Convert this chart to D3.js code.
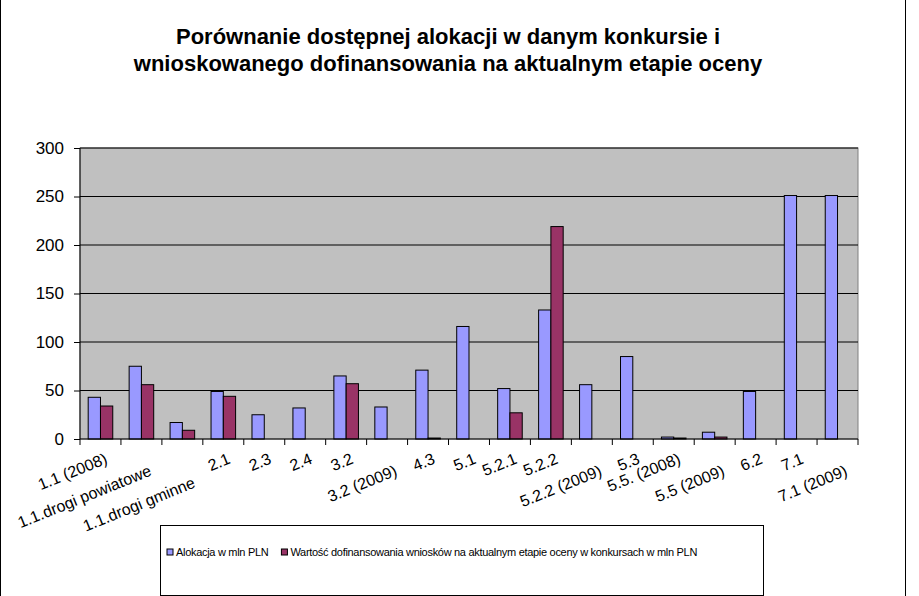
<!DOCTYPE html>
<html><head><meta charset="utf-8">
<script src="https://cdn.jsdelivr.net/npm/d3@7"></script>
<style>body{margin:0;background:#fff;font-family:Arial,"Liberation Sans",sans-serif}</style>
</head><body><div id="canvas"></div>
<script>
const categories = ["1.1 (2008)", "1.1.drogi powiatowe", "1.1.drogi gminne", "2.1", "2.3", "2.4", "3.2", "3.2 (2009)", "4.3", "5.1", "5.2.1", "5.2.2", "5.2.2 (2009)", "5.3", "5.5. (2008)", "5.5 (2009)", "6.2", "7.1", "7.1 (2009)"];
const alokacja = [43, 75, 17, 49, 25, 32, 65, 33, 71, 116, 52, 133, 56, 85, 2, 7, 49, 251, 251];
const wartosc = [34, 56, 9, 44, 0, 0, 57, 0, 1, 0, 27, 219, 0, 0, 1, 2, 0, 0, 0];
const labelRow = [0, 1, 2, 0, 0, 0, 0, 1, 0, 0, 0, 0, 1, 0, 0, 1, 0, 0, 1];
const yTicks = [0, 50, 100, 150, 200, 250, 300];
const seriesNames = ["Alokacja w mln PLN", "Wartość dofinansowania wniosków na aktualnym etapie oceny w konkursach w mln PLN"];
const colors = ["#9999ff", "#993366"];

const width = 919, height = 596;
const margin = {top: 148, left: 80, bottom: 157, right: 61};
const iwidth = width - margin.left - margin.right;
const iheight = height - margin.top - margin.bottom;

const svg = d3.select("#canvas").append("svg").attr("width", width).attr("height", height);

// outer frame
svg.append("rect").attr("x", 0.5).attr("y", -2).attr("width", 905).attr("height", 600)
    .style("fill", "none").style("stroke", "#000");

svg.append("text").attr("x", 448).attr("y", 44).attr("text-anchor", "middle")
    .style("font-weight", "bold").style("font-size", "22px").text("Porównanie dostępnej alokacji w danym konkursie i");
svg.append("text").attr("x", 448).attr("y", 71).attr("text-anchor", "middle")
    .style("font-weight", "bold").style("font-size", "22px").text("wnioskowanego dofinansowania na aktualnym etapie oceny");

const g = svg.append("g").attr("transform", `translate(${margin.left},${margin.top})`);

const y = d3.scaleLinear().domain([0, 300]).range([iheight, 0]);
const x = d3.scaleBand().domain(categories).range([0, iwidth]);
const bw = x.bandwidth();

g.append("rect").attr("width", iwidth).attr("height", iheight)
    .style("fill", "#c0c0c0").style("stroke", "#808080");

g.selectAll(".grid").data(yTicks.slice(1)).enter().append("line")
    .attr("x1", 0).attr("x2", iwidth).attr("y1", d => y(d)).attr("y2", d => y(d))
    .style("stroke", "#000").style("stroke-width", 1);

[alokacja, wartosc].forEach((vals, s) => {
    g.selectAll(".bar" + s).data(vals).enter().append("rect")
        .attr("x", (d, i) => x(categories[i]) + bw * 0.2 + s * bw * 0.3)
        .attr("y", d => y(d))
        .attr("width", bw * 0.3)
        .attr("height", d => iheight - y(d))
        .style("fill", colors[s]).style("stroke", "#000").style("stroke-width", 1);
});

const ya = g.append("g").call(d3.axisLeft(y).tickValues(yTicks).tickSize(6).tickPadding(10));
ya.selectAll("text").style("font-size", "17px").style("font-family", "Arial");
ya.select(".domain").remove();
ya.append("line").attr("y1", 0).attr("y2", iheight).style("stroke", "#000");

const xa = g.append("g").attr("transform", `translate(0,${iheight})`);
xa.selectAll(".tk").data(categories.concat(["end"])).enter().append("line")
    .attr("x1", (d, i) => i * bw).attr("x2", (d, i) => i * bw).attr("y1", 0).attr("y2", 6)
    .style("stroke", "#000");
xa.append("line").attr("x1", 0).attr("x2", iwidth).style("stroke", "#000");
xa.selectAll(".lbl").data(categories).enter().append("text")
    .attr("transform", (d, i) => `translate(${x(d) + bw / 2 + 8 + labelRow[i] * 3},${24 + labelRow[i] * 12}) rotate(-22)`)
    .attr("text-anchor", "end").style("font-size", "16px").style("fill", "#000")
    .style("font-family", "Arial").text(d => d);

// legend
const lg = svg.append("g");
lg.append("rect").attr("x", 160.5).attr("y", 525.5).attr("width", 603).attr("height", 70)
    .style("fill", "#fff").style("stroke", "#000");
let lx = 167;
seriesNames.forEach((n, s) => {
    lg.append("rect").attr("x", lx).attr("y", 549).attr("width", 6).attr("height", 6)
        .style("fill", colors[s]).style("stroke", "#000");
    const t = lg.append("text").attr("x", lx + 9).attr("y", 556).style("font-size", "11px")
        .style("letter-spacing", "-0.3px").text(n);
    lx += t.node().getComputedTextLength() + 22;
});
</script></body></html>
